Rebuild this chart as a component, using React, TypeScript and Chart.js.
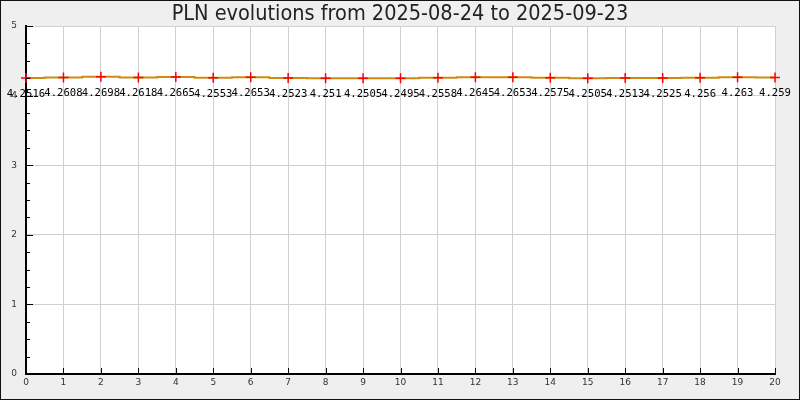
import React, { useEffect, useRef } from "react";
import { Chart, registerables } from "chart.js";

Chart.register(...registerables);

const titleText = "PLN evolutions from 2025-08-24 to 2025-09-23";
const xIndex = [0, 1, 2, 3, 4, 5, 6, 7, 8, 9, 10, 11, 12, 13, 14, 15, 16, 17, 18, 19, 20];
const rates = [
  4.2516, 4.2608, 4.2698, 4.2618, 4.2665, 4.2553, 4.2653, 4.2523, 4.251, 4.2505, 4.2495,
  4.2558, 4.2645, 4.2653, 4.2575, 4.2505, 4.2513, 4.2525, 4.256, 4.263, 4.259,
];
const rateLabels = [
  "4.2516", "4.2608", "4.2698", "4.2618", "4.2665", "4.2553", "4.2653", "4.2523", "4.251", "4.2505", "4.2495",
  "4.2558", "4.2645", "4.2653", "4.2575", "4.2505", "4.2513", "4.2525", "4.256", "4.263", "4.259",
];
const yMin = 0;
const yMax = 5;
const xMin = 0;
const xMax = 20;

const decoPlugin = {
  id: "deco",
  beforeDraw(chart: any) {
    const { ctx, chartArea } = chart;
    ctx.save();
    ctx.fillStyle = "#efefef";
    ctx.fillRect(0, 0, chart.width, chart.height);
    ctx.fillStyle = "#ffffff";
    ctx.fillRect(chartArea.left, chartArea.top, chartArea.right - chartArea.left, chartArea.bottom - chartArea.top);
    ctx.restore();
  },
  afterDraw(chart: any) {
    const { ctx, chartArea, scales } = chart;
    const xs = scales.x;
    const ys = scales.y;
    ctx.save();
    ctx.strokeStyle = "#000";
    ctx.lineWidth = 1;
    for (let v = yMin; v <= yMax + 1e-9; v += 0.25) {
      const py = Math.round(ys.getPixelForValue(v)) + 0.5;
      const major = Math.abs(v - Math.round(v)) < 1e-9;
      ctx.beginPath();
      ctx.moveTo(chartArea.left, py);
      ctx.lineTo(chartArea.left + (major ? 7 : 4), py);
      ctx.stroke();
    }
    for (let v = xMin; v <= xMax; v += 1) {
      const px = Math.round(xs.getPixelForValue(v)) + 0.5;
      ctx.beginPath();
      ctx.moveTo(px, chartArea.bottom);
      ctx.lineTo(px, chartArea.bottom - 6);
      ctx.stroke();
    }
    ctx.fillStyle = "#222";
    ctx.font = "21.5px 'DejaVu Sans Condensed', 'DejaVu Sans'";
    ctx.textAlign = "center";
    ctx.textBaseline = "middle";
    ctx.fillText(titleText, 400, 14);
    ctx.strokeStyle = "#111";
    ctx.lineWidth = 1;
    ctx.strokeRect(0.5, 0.5, chart.width - 1, chart.height - 1);
    ctx.restore();
  },
  afterDatasetsDraw(chart: any) {
    const { ctx } = chart;
    const meta = chart.getDatasetMeta(0);
    ctx.save();
    ctx.fillStyle = "#000";
    ctx.font = "10.6px 'DejaVu Sans Mono'";
    ctx.textAlign = "center";
    ctx.textBaseline = "middle";
    meta.data.forEach((pt: any, i: number) => {
      ctx.fillText(rateLabels[i], pt.x, pt.y + 16);
    });
    ctx.restore();
  },
};

export default function App() {
  const ref = useRef<HTMLCanvasElement>(null);
  useEffect(() => {
    if (!ref.current) return;
    const chart = new Chart(ref.current, {
      type: "line",
      data: {
        datasets: [
          {
            data: xIndex.map((x, i) => ({ x, y: rates[i] })),
            stepped: "middle",
            borderColor: "#d08a10",
            borderWidth: 2,
            pointStyle: "cross",
            pointRadius: 5,
            pointBorderColor: "#ff0000",
            pointBackgroundColor: "#ff0000",
            pointBorderWidth: 1.5,
            clip: false,
          } as any,
        ],
      },
      options: {
        responsive: false,
        animation: false,
        layout: { padding: { top: 26, right: 25, left: 0, bottom: 0 } },
        plugins: { legend: { display: false }, tooltip: { enabled: false }, title: { display: false } },
        scales: {
          x: {
            type: "linear",
            min: xMin,
            max: xMax,
            ticks: { stepSize: 1, font: { size: 9, family: "'DejaVu Sans'" }, color: "#333", padding: 3, maxRotation: 0 },
            grid: { color: "#d0d0d0", drawTicks: false },
            border: { display: true, color: "#000", width: 2 },
            afterFit: (s: any) => { s.height = 26; },
          },
          y: {
            min: yMin,
            max: yMax,
            ticks: { stepSize: 1, font: { size: 9, family: "'DejaVu Sans'" }, color: "#333", padding: 9 },
            grid: { color: "#d0d0d0", drawTicks: false },
            border: { display: true, color: "#000", width: 2 },
            afterFit: (s: any) => { s.width = 26; },
          },
        },
      },
      plugins: [decoPlugin],
    });
    return () => chart.destroy();
  }, []);
  return (
    <div style={{ position: "absolute", left: 0, top: 0, width: 800, height: 400 }}>
      <canvas ref={ref} width={800} height={400} />
    </div>
  );
}
